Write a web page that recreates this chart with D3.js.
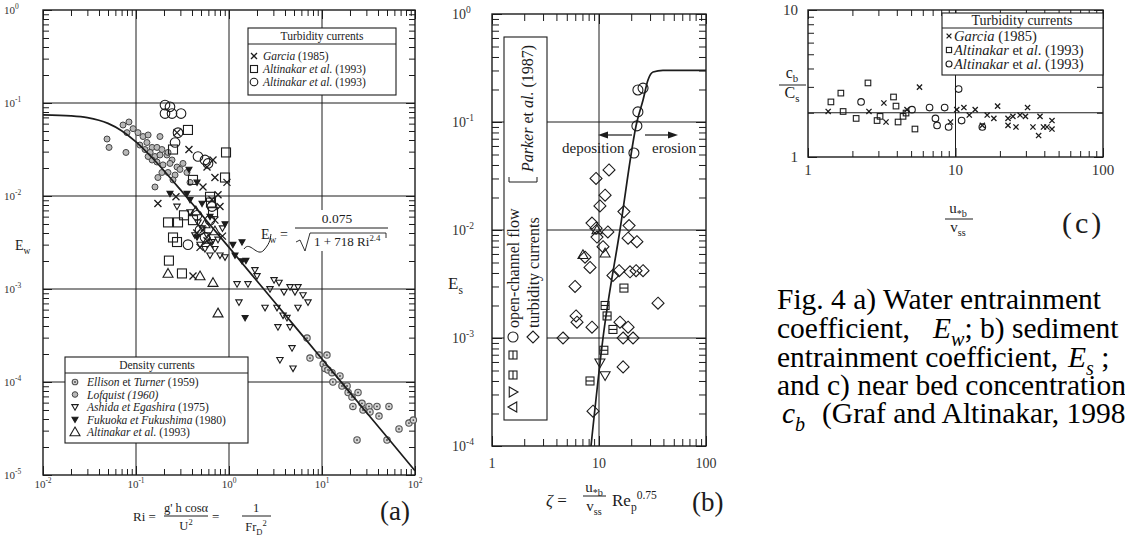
<!DOCTYPE html>
<meta charset="utf-8">
<body style="margin:0;background:#fff">
<script src="https://d3js.org/d3.v7.min.js"></script>
<script>
// ---------- panel (a): water entrainment Ew vs Ri ----------
var garciaA = [[0.276,0.048],[0.371,0.0316],[0.673,0.0244],[0.58,0.0205],[0.706,0.0158],[0.951,0.014],[0.525,0.0125],[0.269,0.0098],[0.172,0.0083],[0.762,0.0103],[0.80,0.0077],[0.656,0.0091],[0.41,0.00138],[0.525,0.0043],[0.625,0.003],[0.488,0.0028],[0.706,0.0055],[0.85,0.0037],[0.58,0.0033],[0.45,0.0040]];
var altSqA = [[0.362,0.0513],[0.929,0.0294],[0.906,0.0158],[0.25,0.0316],[0.41,0.0149],[0.625,0.0098],[0.64,0.0085],[0.221,0.0052],[0.283,0.0052],[0.328,0.0062],[0.41,0.0055],[0.25,0.00358],[0.276,0.0032],[0.226,0.00202],[0.312,0.00147],[0.673,0.0067]];
var altCircA = [[0.205,0.095],[0.232,0.091],[0.205,0.077],[0.244,0.077],[0.305,0.077],[0.283,0.048],[0.263,0.0376],[0.464,0.0266],[0.552,0.0244],[0.595,0.0224],[0.656,0.0077],[0.453,0.0062],[0.362,0.003],[0.488,0.0043],[0.552,0.0036],[0.625,0.0055]];
var altTriA = [[0.221,0.00147],[0.488,0.00138],[0.673,0.00117],[0.762,0.00055],[0.552,0.005],[0.706,0.0042],[0.595,0.0034],[0.44,0.0069]];
var ashidaA = [[1.22,0.00113],[1.60,0.00113],[1.28,0.00072],[1.90,0.0016],[2.0,0.00138],[2.76,0.001],[3.05,0.00125],[3.45,0.00117],[3.9,0.00093],[4.53,0.00105],[5.52,0.00105],[6.25,0.00086],[7.07,0.00072],[5.52,0.00063],[3.28,0.00063],[2.44,0.00063],[3.36,0.00039],[4.53,0.00039],[4.76,0.000232],[3.53,0.000173],[4.88,0.00014],[4.2,0.00049],[3.81,0.00052],[5.12,0.00093],
  [0.464,0.0052],[0.513,0.0045],[0.58,0.0038],[0.656,0.0032],[0.488,0.003],[0.552,0.0027],[0.706,0.0027],[0.80,0.0023],[0.625,0.0023],[0.906,0.0022],[0.762,0.0034],[0.43,0.0038],[0.85,0.0045],[0.381,0.0067],[0.276,0.0077]];
var fukuokaA = [[0.371,0.0193],[0.453,0.014],[0.232,0.0106],[0.353,0.0106],[0.381,0.0091],[0.513,0.0083],[0.906,0.005],[1.10,0.003],[1.38,0.0032],[1.38,0.002],[1.52,0.00202],[1.49,0.00049],[0.453,0.0036],[0.625,0.006],[1.16,0.0023]];
var lofquistA = [[0.0488,0.041],[0.0513,0.0333],[0.078,0.0294],[0.0725,0.058],[0.084,0.0625],[0.080,0.048],[0.093,0.053],[0.105,0.048],[0.119,0.0436],[0.135,0.0453],[0.181,0.0436],[0.11,0.0353],[0.131,0.0376],[0.149,0.0333],[0.168,0.0333],[0.19,0.0316],[0.125,0.0316],[0.142,0.0294],[0.16,0.0266],[0.181,0.0276],[0.215,0.0276],[0.244,0.0244],[0.149,0.0244],[0.168,0.0232],[0.195,0.0216],[0.232,0.0224],[0.276,0.0205],[0.19,0.0179],[0.221,0.0179],[0.263,0.0168],[0.297,0.0193],[0.25,0.0149],[0.172,0.0158],[0.16,0.0125],[0.353,0.0179],[0.381,0.014],[0.221,0.0294],[0.135,0.0266],[0.32,0.0224]];
var ellisonA = [[6.9,0.000297],[7.43,0.000181],[9.29,0.000195],[11.3,0.000195],[10.3,0.000156],[10.8,0.00014],[11.6,0.000135],[12.8,0.000126],[13.1,0.0001],[15.6,0.000116],[16.4,0.0000906],[18.6,0.0000906],[19.1,0.0000771],[21.0,0.000069],[21.5,0.0000546],[24.4,0.0000771],[26.9,0.000059],[27.6,0.00005],[32.0,0.0000546],[32.8,0.0000476],[39.0,0.0000546],[41.0,0.000043],[52.5,0.0000546],[67.3,0.0000313],[86.1,0.0000362],[96,0.000039],[23.8,0.0000238],[50,0.0000238]];
var ewFit = [[0.01,0.0746],[0.02,0.0728],[0.03,0.0697],[0.05,0.0604],[0.07,0.0504],[0.1,0.0382],[0.15,0.0256],[0.2,0.0187],[0.3,0.0117],[0.5,0.0064],[1,0.0028],[2,0.00122],[5,0.000406],[10,0.000177],[20,0.0000768],[50,0.0000256],[100,0.0000111]];
var decA_x = [-2,-1,0,1,2];
var decA_y = [0,-1,-2,-3,-4,-5];

// ---------- panel (b): sediment entrainment Es vs zeta ----------
var parkerCircB = [[23.1,0.198],[25.8,0.206],[23.1,0.124],[22.6,0.092],[21.2,0.0516]];
var parkerSqB = [[17.1,0.0029],[11.4,0.002],[11.9,0.0016],[13.5,0.0012],[11.1,0.00077],[8.24,0.0004]];
var triUpB = [[11.4,0.0061],[7.08,0.0059],[9.58,0.0100]];
var triDownB = [[10.2,0.00059],[11.4,0.00045]];
var turbDiaB = [[12.4,0.036],[9.38,0.030],[11.4,0.021],[10.2,0.0167],[17.1,0.0148],[8.6,0.0116],[9.38,0.0104],[12.1,0.0096],[9.58,0.0086],[19.1,0.011],[18.7,0.0084],[22.6,0.0078],[10.9,0.007],[7.4,0.0056],[8.24,0.0045],[13.5,0.0038],[15.4,0.0042],[19.5,0.0041],[22.2,0.0042],[25.8,0.0042],[5.97,0.003],[35.6,0.0021],[6.1,0.0016],[6.23,0.0014],[8.6,0.00126],[15.7,0.0014],[18.7,0.00126],[4.61,0.001],[16.8,0.001],[20.8,0.001],[16.8,0.00054],[8.79,0.00021]];
var parkerFit = [[8.42,1e-4],[10.9,1e-3],[15.7,1e-2],[22.6,0.1],[25.8,0.16],[28.7,0.245],[32,0.29],[39.6,0.3],[100,0.3]];
var decB_y = [0,-1,-2,-3,-4];
var ticksB_x = [1,10,100];

// ---------- panel (c): near bed concentration ----------
var garciaC = [[1.37,2.04],[2.59,2.04],[3.27,2.33],[3.38,1.73],[4.69,2.10],[5.70,2.99],[9.25,1.73],[10.2,2.10],[11.4,2.17],[12.4,1.93],[13.6,2.10],[15.2,1.64],[16.4,1.93],[18.2,1.83],[19.3,2.22],[22.7,1.83],[22.7,1.64],[25.7,1.60],[24.5,1.89],[27.4,1.93],[29.8,1.89],[30.8,2.17],[33.5,1.60],[36.6,1.40],[37.4,1.89],[39.5,1.60],[41.7,1.60],[45.1,1.77],[45.1,1.55]];
var altSqC = [[1.43,2.37],[1.67,2.72],[2.55,3.19],[1.73,2.04],[2.12,1.83],[2.94,1.77],[3.08,1.89],[3.80,2.56],[3.95,2.22],[4.08,1.73],[4.41,1.89],[4.62,1.99],[5.31,1.55]];
var altCircC = [[2.29,2.37],[5.07,2.10],[6.67,2.17],[7.31,1.83],[7.50,1.64],[8.44,2.17],[8.98,1.60],[10.5,2.90],[11.0,1.77],[15.2,1.60]];
var cbRatio = 2;
var ticksC_x = [1,10,100];
var ticksC_y = [1,10];

var ink = '#1c1c1c';
var serif = 'Liberation Serif, Times New Roman, Times, serif';
var svg = d3.select('body').append('svg').attr('width',1125).attr('height',535)
  .attr('font-family', serif).style('background','#fff');

// text with italics / sub / superscripts
function rich(g, x, y, parts, size, anchor) {
  var t = g.append('text').attr('x',x).attr('y',y).attr('font-size',size).attr('font-family',serif)
    .attr('text-anchor',anchor||'start').attr('fill',ink);
  var shift = 0;
  parts.forEach(function(p){
    var s = typeof p === 'string' ? p : p[0];
    var st = typeof p === 'string' ? [] : p[1].split(' ');
    var ts = t.append('tspan').text(s);
    var target = 0;
    if (st.indexOf('sup') >= 0) target = -size*0.42;
    if (st.indexOf('sub') >= 0) target = size*0.28;
    if (target - shift !== 0) ts.attr('dy', target - shift);
    shift = target;
    if (target !== 0) ts.attr('font-size', size*0.68);
    if (st.indexOf('i') >= 0) ts.attr('font-style','italic');
  });
  return t;
}

function frame(sx, sy, o) {
  var g = svg.append('g');
  var xl = sx.range()[0], xr = sx.range()[1], yb = sy.range()[0], yt = sy.range()[1];
  (o.gx||[]).forEach(function(v){
    g.append('line').attr('x1',sx(v)).attr('x2',sx(v)).attr('y1',yb).attr('y2',yt).attr('stroke',ink).attr('stroke-width',1);
  });
  (o.gy||[]).forEach(function(v){
    g.append('line').attr('x1',xl).attr('x2',xr).attr('y1',sy(v)).attr('y2',sy(v)).attr('stroke',ink).attr('stroke-width',1);
  });
  function isDec(v){ var l = Math.log10(v); return Math.abs(l - Math.round(l)) < 1e-6; }
  var xt = sx.ticks(), yt2 = sy.ticks();
  var sides = [
    [d3.axisBottom, sx, xt, 'translate(0,'+yb+')'],
    [d3.axisTop, sx, xt, 'translate(0,'+yt+')'],
    [d3.axisLeft, sy, yt2, 'translate('+xl+',0)'],
    [d3.axisRight, sy, yt2, 'translate('+xr+',0)']
  ];
  sides.forEach(function(s){
    [false,true].forEach(function(maj){
      var vals = s[2].filter(function(v){ return isDec(v) === maj; });
      g.append('g').attr('transform', s[3])
        .call(s[0](s[1]).tickValues(vals).tickSize(-(maj?o.maj:o.min)).tickSizeOuter(0).tickFormat(''))
        .call(function(a){ a.select('.domain').remove(); })
        .selectAll('line').attr('stroke',ink).attr('stroke-width',1);
    });
  });
  g.append('rect').attr('x',xl).attr('y',yt).attr('width',xr-xl).attr('height',yb-yt)
    .attr('fill','none').attr('stroke',ink).attr('stroke-width',1.4);
  return g;
}

function mark(g, type, cx, cy, s) {
  var sw = 1.1;
  if (type === 'x') {
    g.append('path').attr('d','M'+(cx-s)+','+(cy-s)+'L'+(cx+s)+','+(cy+s)+'M'+(cx-s)+','+(cy+s)+'L'+(cx+s)+','+(cy-s))
      .attr('stroke',ink).attr('stroke-width',sw+0.2).attr('fill','none');
  } else if (type === 'sq' || type === 'sqb') {
    g.append('rect').attr('x',cx-s).attr('y',cy-s).attr('width',2*s).attr('height',2*s)
      .attr('fill','none').attr('stroke',ink).attr('stroke-width',sw);
    if (type === 'sqb') g.append('line').attr('x1',cx-s).attr('x2',cx+s).attr('y1',cy).attr('y2',cy).attr('stroke',ink).attr('stroke-width',sw);
  } else if (type === 'o') {
    g.append('circle').attr('cx',cx).attr('cy',cy).attr('r',s).attr('fill','none').attr('stroke',ink).attr('stroke-width',sw);
  } else if (type === 'tri' || type === 'trid' || type === 'trif') {
    var k = type === 'tri' ? 1 : -1;
    g.append('path').attr('d','M'+cx+','+(cy-k*s)+'L'+(cx+s)+','+(cy+k*s*0.75)+'L'+(cx-s)+','+(cy+k*s*0.75)+'Z')
      .attr('fill', type === 'trif' ? ink : 'none').attr('stroke',ink).attr('stroke-width',sw);
  } else if (type === 'dia') {
    g.append('path').attr('d','M'+cx+','+(cy-s)+'L'+(cx+s)+','+cy+'L'+cx+','+(cy+s)+'L'+(cx-s)+','+cy+'Z')
      .attr('fill','none').attr('stroke',ink).attr('stroke-width',sw);
  } else if (type === 'grey') {
    g.append('circle').attr('cx',cx).attr('cy',cy).attr('r',s).attr('fill','#b8b8b8').attr('stroke','#444').attr('stroke-width',1);
  } else if (type === 'greyd') {
    g.append('circle').attr('cx',cx).attr('cy',cy).attr('r',s).attr('fill','#d4d4d4').attr('stroke','#555').attr('stroke-width',1.1);
    g.append('circle').attr('cx',cx).attr('cy',cy).attr('r',0.9).attr('fill','#444');
  }
}

function plot(g, arr, sx, sy, type, s) {
  arr.forEach(function(d){ mark(g, type, sx(d[0]), sy(d[1]), s); });
}

function legendRow(g, type, sx, y, s, tx, parts, size) {
  mark(g, type, sx, y, s);
  rich(g, tx, y + size*0.35, parts, size);
}

// ================= panel (a) =================
var xa = d3.scaleLog().domain([1e-2,1e2]).range([43,415]);
var ya = d3.scaleLog().domain([1e-5,1]).range([475,10]);
var ga = frame(xa, ya, {gx:[0.1,1,10], gy:[1e-1,1e-2,1e-3,1e-4], min:6, maj:9});

decA_y.forEach(function(e){ rich(ga, 4, ya(Math.pow(10,e))+4, ['10',[String(e),'sup']], 11).attr('fill','#333'); });
decA_x.forEach(function(e){ rich(ga, xa(Math.pow(10,e)), 488, ['10',[String(e),'sup']], 11, 'middle').attr('fill','#333'); });

plot(ga, lofquistA, xa, ya, 'grey', 3);
plot(ga, ellisonA, xa, ya, 'greyd', 3.2);
plot(ga, ashidaA, xa, ya, 'trid', 3.2);
plot(ga, fukuokaA, xa, ya, 'trif', 3);
plot(ga, altTriA, xa, ya, 'tri', 5);
plot(ga, altSqA, xa, ya, 'sq', 4.5);
plot(ga, altCircA, xa, ya, 'o', 4.8);
plot(ga, garciaA, xa, ya, 'x', 3.5);

ga.append('path').datum(ewFit)
  .attr('d', d3.line().x(function(d){return xa(d[0]);}).y(function(d){return ya(d[1]);}).curve(d3.curveMonotoneX))
  .attr('fill','none').attr('stroke',ink).attr('stroke-width',1.7);

// equation
ga.append('rect').attr('x',292).attr('y',210).attr('width',100).attr('height',41).attr('fill','#fff');
rich(ga, 261, 239, ['E',['w','sub'],' ='], 14);
rich(ga, 337, 223, ['0.075'], 13.5, 'middle');
ga.append('line').attr('x1',295).attr('x2',388).attr('y1',228).attr('y2',228).attr('stroke',ink).attr('stroke-width',1);
ga.append('path').attr('d','M296,242 L300,240 L305,251 L310,233 L386,233 L386,238')
  .attr('fill','none').attr('stroke',ink).attr('stroke-width',0.9);
rich(ga, 314, 246, ['1 + 718 Ri',['2.4','sup']], 13);
ga.append('path').attr('d','M244,249 C250,240 257,258 264,250 S270,238 271,234')
  .attr('fill','none').attr('stroke',ink).attr('stroke-width',1);

// turbidity legend (a)
ga.append('rect').attr('x',248).attr('y',28).attr('width',148).attr('height',67).attr('fill','#fff').attr('stroke',ink).attr('stroke-width',1.1);
rich(ga, 322, 40, ['Turbidity currents'], 11.5, 'middle');
ga.append('line').attr('x1',248).attr('x2',396).attr('y1',44).attr('y2',44).attr('stroke',ink);
legendRow(ga, 'x', 254, 56, 3, 263, [['Garcia','i'],' (1985)'], 11.5);
legendRow(ga, 'sq', 254, 69, 3.5, 263, [['Altinakar et al.','i'],' (1993)'], 11.5);
legendRow(ga, 'o', 254, 82, 3.8, 263, [['Altinakar et al.','i'],' (1993)'], 11.5);

// density legend (a)
ga.append('rect').attr('x',65).attr('y',357).attr('width',183).attr('height',86).attr('fill','#fff').attr('stroke',ink).attr('stroke-width',1.1);
rich(ga, 157, 369, ['Density currents'], 11.5, 'middle');
ga.append('line').attr('x1',65).attr('x2',248).attr('y1',373).attr('y2',373).attr('stroke',ink);
legendRow(ga, 'greyd', 75, 382, 2.8, 87, [['Ellison','i'],' et ',['Turner','i'],' (1959)'], 11.5);
legendRow(ga, 'grey', 75, 394.5, 2.8, 87, [['Lofquist (1960)','i']], 11.5);
legendRow(ga, 'trid', 75, 407, 3.2, 87, [['Ashida et Egashira','i'],' (1975)'], 11.5);
legendRow(ga, 'trif', 75, 419.5, 3, 87, [['Fukuoka et Fukushima','i'],' (1980)'], 11.5);
legendRow(ga, 'tri', 75, 432, 5, 87, [['Altinakar et al.','i'],' (1993)'], 11.5);

// axis titles (a)
rich(ga, 15, 250, ['E',['w','sub']], 14);
rich(ga, 133, 521, ['Ri ='], 13);
rich(ga, 186, 512, ["g' h cos\u03b1"], 12.5, 'middle');
ga.append('line').attr('x1',164).attr('x2',208).attr('y1',516).attr('y2',516).attr('stroke',ink);
rich(ga, 186, 530, ['U',['2','sup']], 12.5, 'middle');
rich(ga, 212, 521, ['='], 13);
rich(ga, 256, 512, ['1'], 12.5, 'middle');
ga.append('line').attr('x1',242).attr('x2',271).attr('y1',516).attr('y2',516).attr('stroke',ink);
rich(ga, 256, 531, ['Fr',['D','sub'],['2','sup']], 12.5, 'middle');
rich(ga, 380, 520, ['(a)'], 27);

// ================= panel (b) =================
var xb = d3.scaleLog().domain([1,100]).range([492,706]);
var yb = d3.scaleLog().domain([1e-4,1]).range([446,14]);
var gb = frame(xb, yb, {gx:[10], gy:[0.1,0.01,0.001], min:7, maj:10});

decB_y.forEach(function(e){ rich(gb, 452, yb(Math.pow(10,e))+5, ['10',[String(e),'sup']], 14).attr('fill','#333'); });
ticksB_x.forEach(function(v){ rich(gb, xb(v), 468, [String(v)], 14, 'middle').attr('fill','#333'); });

plot(gb, turbDiaB, xb, yb, 'dia', 6);
plot(gb, parkerCircB, xb, yb, 'o', 5);
plot(gb, parkerSqB, xb, yb, 'sqb', 4);
plot(gb, triUpB, xb, yb, 'tri', 5);
plot(gb, triDownB, xb, yb, 'trid', 5);

gb.append('path').datum(parkerFit)
  .attr('d', d3.line().x(function(d){return xb(d[0]);}).y(function(d){return yb(d[1]);}).curve(d3.curveMonotoneX))
  .attr('fill','none').attr('stroke',ink).attr('stroke-width',1.7);

// deposition / erosion arrows
rich(gb, 562, 153, ['deposition'], 15);
rich(gb, 652, 153, ['erosion'], 15);
gb.append('line').attr('x1',632).attr('x2',606).attr('y1',135).attr('y2',135).attr('stroke',ink).attr('stroke-width',1.2);
gb.append('path').attr('d','M598,135 L608,131.5 L608,138.5 Z').attr('fill',ink);
gb.append('line').attr('x1',645).attr('x2',670).attr('y1',135).attr('y2',135).attr('stroke',ink).attr('stroke-width',1.2);
gb.append('path').attr('d','M678,135 L668,131.5 L668,138.5 Z').attr('fill',ink);

// rotated legend (b)
gb.append('rect').attr('x',504).attr('y',37).attr('width',43).attr('height',383).attr('fill','#fff').attr('stroke',ink).attr('stroke-width',1.1);
var lb = gb.append('g').attr('transform','translate(504,420) rotate(-90)');
mark(lb, 'tri', 13, 9, 5);
mark(lb, 'trid', 28, 9, 5);
mark(lb, 'sqb', 45, 9, 4);
mark(lb, 'sqb', 65, 9, 4);
mark(lb, 'o', 83, 9, 5);
mark(lb, 'dia', 83, 29, 6);
rich(lb, 92, 15, ['open-channel flow'], 16);
rich(lb, 92, 35, ['turbidity currents'], 16);
lb.append('path').attr('d','M243,5 L238,5 L238,33 L243,33').attr('fill','none').attr('stroke',ink).attr('stroke-width',1);
rich(lb, 248, 29, [['Parker','i'],' et ',['al.','i'],' (1987)'], 16);

// axis titles (b)
rich(gb, 448, 289, ['E',['s','sub']], 17);
rich(gb, 546, 506, [['\u03b6','i'],' ='], 17);
rich(gb, 594, 492, ['u',['*b','sub']], 15, 'middle');
gb.append('line').attr('x1',583).attr('x2',606).attr('y1',496).attr('y2',496).attr('stroke',ink);
rich(gb, 594, 511, ['v',['ss','sub']], 15, 'middle');
rich(gb, 612, 506, ['Re',['p','sub'],['0.75','sup']], 17);
rich(gb, 692, 511, ['(b)'], 27);

// ================= panel (c) =================
var xc = d3.scaleLog().domain([1,100]).range([808,1103]);
var yc = d3.scaleLog().domain([1,10]).range([157,10]);
var gc = frame(xc, yc, {gx:[10], gy:[], min:6, maj:9});
gc.append('line').attr('x1',808).attr('x2',1103).attr('y1',yc(cbRatio)).attr('y2',yc(cbRatio)).attr('stroke',ink).attr('stroke-width',1.2);

ticksC_y.forEach(function(v){ rich(gc, 798, yc(v)+5, [String(v)], 15, 'end').attr('fill','#333'); });
ticksC_x.forEach(function(v){ rich(gc, xc(v), 175, [String(v)], 15, 'middle').attr('fill','#333'); });

plot(gc, altSqC, xc, yc, 'sq', 2.8);
plot(gc, altCircC, xc, yc, 'o', 3.3);
plot(gc, garciaC, xc, yc, 'x', 2.6);

gc.append('rect').attr('x',942).attr('y',13).attr('width',161).attr('height',62).attr('fill','#fff').attr('stroke',ink).attr('stroke-width',1.1);
rich(gc, 1022, 25, ['Turbidity currents'], 14, 'middle');
gc.append('line').attr('x1',942).attr('x2',1103).attr('y1',28).attr('y2',28).attr('stroke',ink);
legendRow(gc, 'x', 949, 36, 2.4, 954, [['Garcia','i'],' (1985)'], 14.5);
legendRow(gc, 'sq', 949, 50, 2.6, 954, [['Altinakar','i'],' et ',['al','i'],'. (1993)'], 14.5);
legendRow(gc, 'o', 949, 64, 3, 954, [['Altinakar','i'],' et ',['al','i'],'. (1993)'], 14.5);

rich(gc, 792, 78, ['c',['b','sub']], 16, 'middle');
gc.append('line').attr('x1',779).attr('x2',806).attr('y1',85).attr('y2',85).attr('stroke',ink);
rich(gc, 792, 98, ['C',['s','sub']], 16, 'middle');
rich(gc, 958, 213, ['u',['*b','sub']], 15, 'middle');
gc.append('line').attr('x1',945).attr('x2',973).attr('y1',219).attr('y2',219).attr('stroke',ink);
rich(gc, 958, 232, ['v',['ss','sub']], 15, 'middle');
rich(gc, 1062, 233, ['(c)'], 30).attr('letter-spacing',3);

// ================= caption =================
var cap = svg.append('g');
var fs = 29.5;
rich(cap, 777, 309, ['Fig. 4 a) Water entrainment'], fs).attr('fill','#000');
rich(cap, 777, 338, ['coefficient,'], fs).attr('fill','#000');
rich(cap, 933, 338, [['E','i'],['w','i sub'],'; b) sediment'], fs).attr('fill','#000');
rich(cap, 777, 367, ['entrainment coefficient,'], fs).attr('fill','#000');
rich(cap, 1068, 367, [['E','i'],['s','i sub'],' ;'], fs).attr('fill','#000');
rich(cap, 777, 395, ['and c) near bed concentration'], fs).attr('fill','#000');
rich(cap, 782, 423, [['c','i'],['b','i sub']], fs).attr('fill','#000');
rich(cap, 822, 423, ['(Graf and Altinakar, 1998)'], fs).attr('fill','#000');
</script>
</body>
